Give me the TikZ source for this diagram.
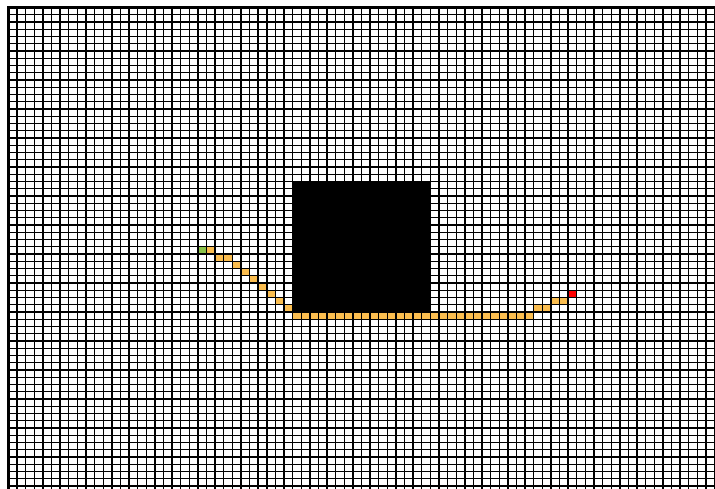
\documentclass[tikz,border=0pt]{standalone}
\definecolor{pathorange}{RGB}{251,190,80}
\definecolor{startgreen}{RGB}{139,195,74}
\definecolor{goalred}{RGB}{255,0,0}
\begin{document}
\begin{tikzpicture}[x=1pt,y=1pt,
  gridline/.style={black,line width=1.4pt},
  borderline/.style={black,line width=3pt},
  pathcell/.style={fill=pathorange},
  obstacle/.style={fill=black}]
\useasboundingbox (0,0) rectangle (715,-489);
\fill[white] (0,0) rectangle (715,-489);
\begin{scope}
\clip (0,0) rectangle (715,-489);
\begin{scope}[shift={(8.5,-7.5)}, x=8.61pt, y=-7.25pt]
  % obstacle
  \fill[obstacle] (33,24) rectangle (49,42);
  % start and goal
  \fill[startgreen] (22,33) rectangle ++(1,1);
  \fill[goalred] (65,39) rectangle ++(1,1);
  % path
  \foreach \c/\r in {23/33,24/34,25/34,26/35,27/36,28/37,29/38,30/39,31/40,32/41,61/41,62/41,63/40,64/40}
    \fill[pathcell] (\c,\r) rectangle ++(1,1);
  \foreach \c in {33,...,60}
    \fill[pathcell] (\c,42) rectangle ++(1,1);
  % grid
  \foreach \c in {0,...,83}
    \draw[gridline] (\c,0) -- (\c,68);
  \foreach \r in {0,...,68}
    \draw[gridline] (0,\r) -- (84,\r);
  \draw[borderline] (0,68) -- (0,0) -- (84,0);
\end{scope}
\end{scope}
\end{tikzpicture}
\end{document}
